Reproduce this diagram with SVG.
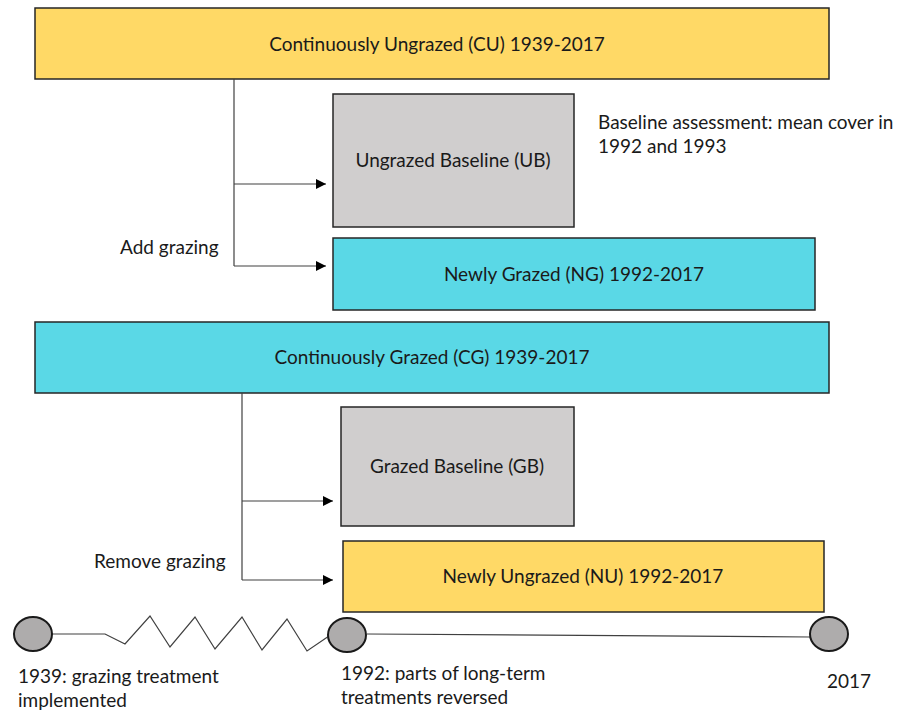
<svg xmlns="http://www.w3.org/2000/svg" width="914" height="712" viewBox="0 0 914 712">
<style>
.box{stroke:#262626;stroke-width:1.5}
.y{fill:#FFD966}
.c{fill:#5AD8E6}
.g{fill:#D0CECE}
.t{font-family:Lato,"Liberation Sans",sans-serif;font-size:19px;fill:#1a1a1a}
.m{text-anchor:middle}
.ln{fill:none;stroke:#404040;stroke-width:1.2}
.dot{fill:#AEACAC;stroke:#1a1a1a;stroke-width:2}
</style>
<defs>
<marker id="ah" viewBox="0 0 10 10" refX="10" refY="5" markerWidth="10" markerHeight="10" markerUnits="userSpaceOnUse" orient="auto">
<path d="M0,0 L10,5 L0,10 z" fill="#000"/>
</marker>
</defs>
<g id="CU"><rect class="box y" x="35" y="8" width="794" height="71"/><text class="t m" x="437" y="51">Continuously Ungrazed (CU) 1939-2017</text></g>
<g id="UB"><rect class="box g" x="333" y="94" width="241" height="133"/><text class="t m" x="453" y="167">Ungrazed Baseline (UB)</text></g>
<g id="NG"><rect class="box c" x="333" y="238" width="482" height="72"/><text class="t m" x="574" y="281">Newly Grazed (NG) 1992-2017</text></g>
<g id="CG"><rect class="box c" x="35" y="322" width="794" height="71"/><text class="t m" x="432" y="364">Continuously Grazed (CG) 1939-2017</text></g>
<g id="GB"><rect class="box g" x="341" y="407" width="233" height="119"/><text class="t m" x="457" y="473">Grazed Baseline (GB)</text></g>
<g id="NU"><rect class="box y" x="343" y="541" width="481" height="71"/><text class="t m" x="583" y="583">Newly Ungrazed (NU) 1992-2017</text></g>
<g id="labels">
<text class="t" x="598" y="129">Baseline assessment: mean cover in</text>
<text class="t" x="598" y="153">1992 and 1993</text>
<text class="t" x="120" y="254">Add grazing</text>
<text class="t" x="94" y="568">Remove grazing</text>
<text class="t" x="18" y="683">1939: grazing treatment</text>
<text class="t" x="18" y="707">implemented</text>
<text class="t" x="341" y="680">1992: parts of long-term</text>
<text class="t" x="341" y="704">treatments reversed</text>
<text class="t" x="827" y="688">2017</text>
</g>
<g id="connectors">
<path class="ln" d="M234,79 V266"/>
<path class="ln" d="M234,184 H326" marker-end="url(#ah)"/>
<path class="ln" d="M234,266 H326" marker-end="url(#ah)"/>
<path class="ln" d="M242,393 V580"/>
<path class="ln" d="M242,501 H333" marker-end="url(#ah)"/>
<path class="ln" d="M242,580 H333" marker-end="url(#ah)"/>
<path class="ln" d="M52,634 L105,634 L125,644 L150,616 L170,647 L195,617 L215,649 L242,617 L262,650 L287,619 L307,651 L329,636"/>
<path class="ln" d="M367,634 L810,637"/>
</g>
<g id="timeline">
<ellipse class="dot" cx="33" cy="634" rx="19" ry="17"/>
<ellipse class="dot" cx="347" cy="635" rx="19" ry="17"/>
<ellipse class="dot" cx="829" cy="634" rx="19" ry="17"/>
</g>
</svg>
